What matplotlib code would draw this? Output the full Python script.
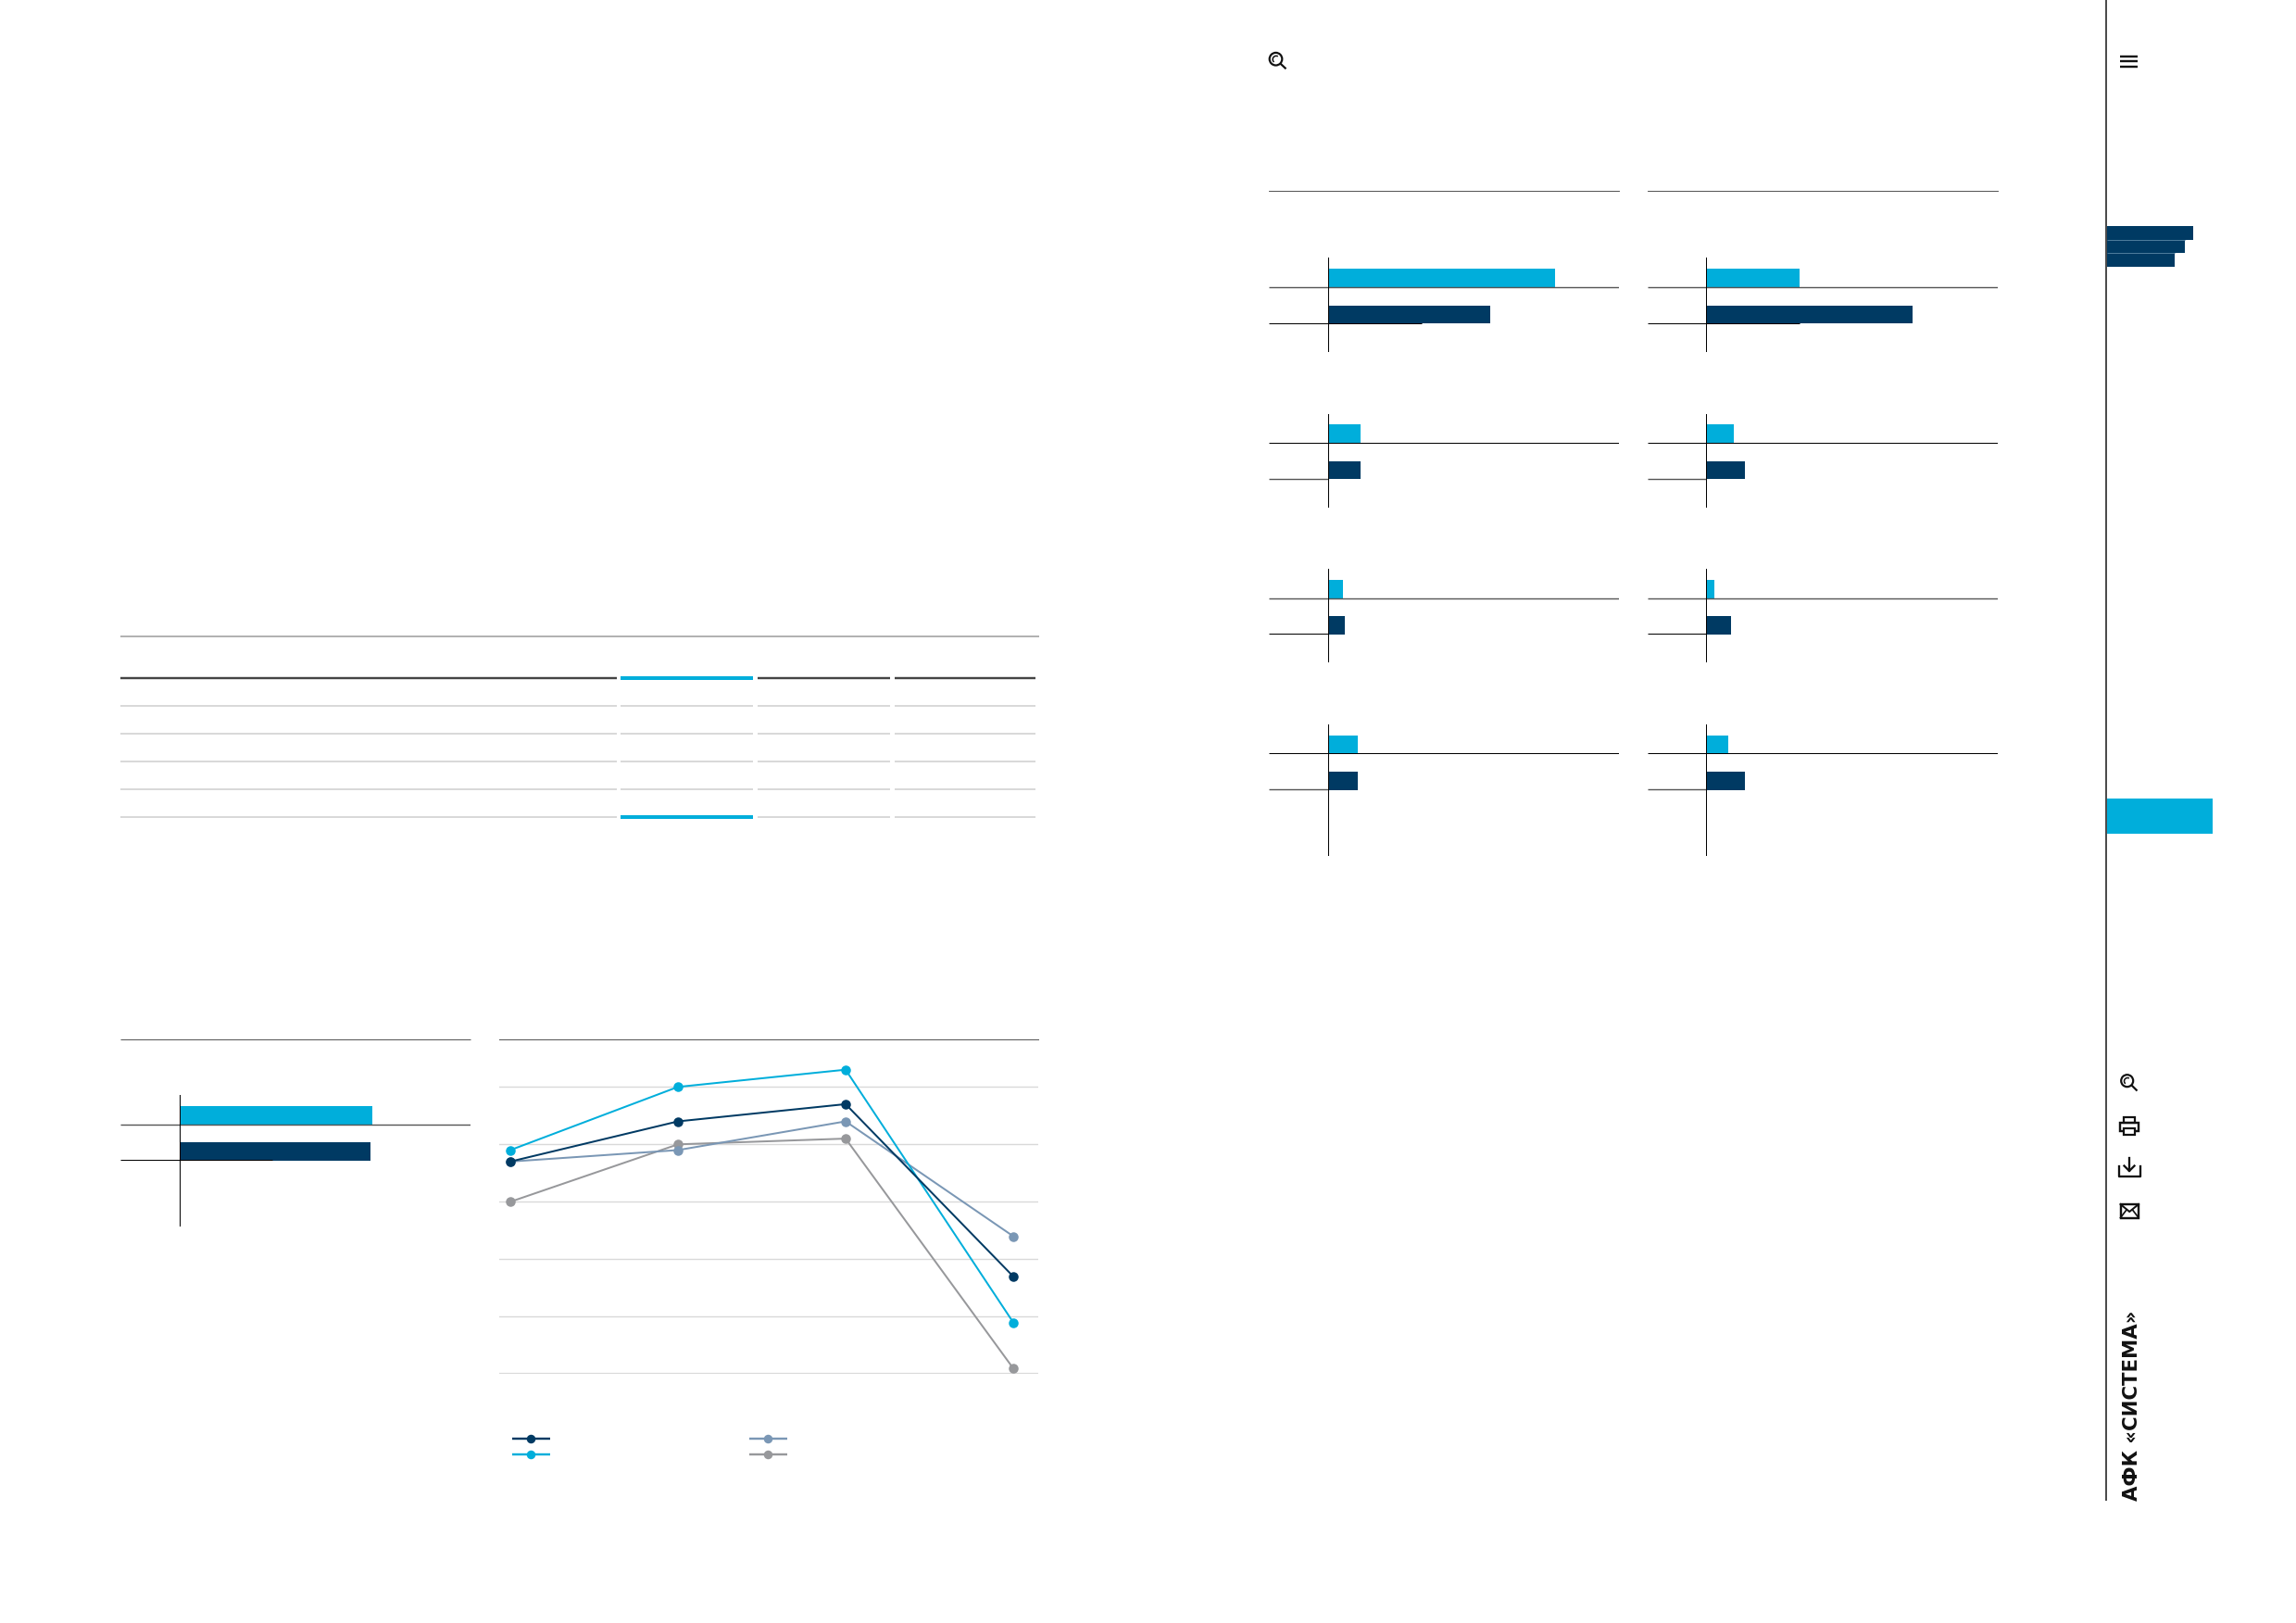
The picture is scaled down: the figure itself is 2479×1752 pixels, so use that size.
import matplotlib
matplotlib.use("Agg")
import matplotlib.pyplot as plt
from matplotlib.patches import Rectangle, Circle, Arc

W, H = 2479, 1752
DARK = "#003a63"; CYAN = "#00aedb"; SLATE = "#7a97b5"; GRAY = "#97989b"
PX = 0.72

# ---- data (no value text is legible in the reference; bar values in chart units) ----
line_categories = [0, 1, 2, 3]
series_dark  = [3.7, 4.4, 4.7, 1.7]
series_cyan  = [3.9, 5.0, 5.3, 0.9]
series_slate = [3.7, 3.9, 4.4, 2.4]
series_gray  = [3.0, 4.0, 4.1, 0.1]
line_grid = [0, 1, 2, 3, 4, 5]

left_bar_values = [207.5, 205.5]
panel_a1 = [244.5, 174.5]
panel_b1 = [100.8, 222.8]
panel_a2 = [34.2, 34.7]
panel_b2 = [29.9, 41.8]
panel_a3 = [15.2, 17.9]
panel_b3 = [8.6, 26.1]
panel_a4 = [32.0, 31.4]
panel_b4 = [23.3, 41.8]
nav_bars = [93.3, 84.6, 73.6]

fig = plt.figure(figsize=(W / 100, H / 100), dpi=100, facecolor="white")
ov = fig.add_axes([0, 0, 1, 1], zorder=5)
ov.set_xlim(0, W); ov.set_ylim(H, 0); ov.axis("off"); ov.patch.set_alpha(0)

def rule(x0, x1, y, c, px):
    ov.plot([x0, x1], [y, y], color=c, lw=px * PX, solid_capstyle="butt")

def axes_px(x0, x1, y0, y1):
    return fig.add_axes([x0 / W, 1 - y1 / H, (x1 - x0) / W, (y1 - y0) / H])

# ---- table rules ----
cols = [(130, 665.5), (670, 813), (818, 961), (965.5, 1117.5)]
rule(130, 1122, 687.3, "#a0a0a0", 1.6)
for i, (a, b) in enumerate(cols):
    rule(a, b, 731.7, CYAN if i == 1 else "#444444", 4 if i == 1 else 2.4)
    for y in (761.7, 791.7, 821.7, 851.7, 881.7):
        if i == 1 and y == 881.7:
            rule(a, b, y, CYAN, 4)
        else:
            rule(a, b, y, "#d9d9d9", 2)

# ---- bar panels ----
def bar_panel(x0, x1, zero, y_top, y_bottom, c_center, values, head_y, first, second, extent):
    ax = axes_px(x0, x1, y_top, y_bottom)
    ax.patch.set_alpha(0)
    unit = 39.35
    ax.set_xlim(x0 - zero, x1 - zero)
    ax.set_ylim((y_bottom - c_center) / unit, (y_top - c_center) / unit)
    ax.barh([0, 1], values, height=0.5, color=[CYAN, DARK], zorder=2)
    for s in ("top", "right", "bottom"):
        ax.spines[s].set_visible(False)
    ax.spines["left"].set_position(("data", 0))
    ax.spines["left"].set_color("#000000")
    ax.spines["left"].set_linewidth(1.0 * PX)
    ax.spines["left"].set_zorder(4)
    ax.set_xticks([]); ax.set_yticks([])
    ax.plot([x0 - zero, x1 - zero], [0.25, 0.25], color=first[0], lw=first[1] * PX, zorder=3, solid_capstyle="butt")
    ax.plot([x0 - zero, extent], [1.23, 1.23], color=second[0], lw=second[1] * PX, zorder=3, solid_capstyle="butt")
    rule(x0, x1, head_y, "#555555", 1.0)

thick = ("#555555", 1.4); thin = ("#000000", 1.0)
bar_panel(130, 508, 194, 1181.7, 1322.7, 1203.85, left_bar_values, 1122.3, thick, thin, 100)
XA, XB = (1370, 1748, 1434.3), (1778.5, 2157.4, 1842.4)
rows = [
    (278.3, 378.7, 300.15, panel_a1, panel_b1, thick, thin, 100.8),
    (446.7, 546.7, 468.15, panel_a2, panel_b2, thin, thick, 0),
    (614.0, 714.0, 635.85, panel_a3, panel_b3, thick, thin, 0),
    (782.0, 922.7, 803.5, panel_a4, panel_b4, thin, thick, 0),
]
for i, (t, b, c, va, vb, f, s, e) in enumerate(rows):
    bar_panel(XA[0], XA[1], XA[2], t, b, c, va, 206, f, s, e)
    bar_panel(XB[0], XB[1], XB[2], t, b, c, vb, 206, f, s, e)

# ---- line chart ----
ax = axes_px(538.5, 1121, 1122.3, 1483.3)
ax.patch.set_alpha(0)
ux = 181.0
ax.set_xlim((538.5 - 551) / ux, 3 + (1121 - 1094) / ux)
ax.set_ylim(0, (1483.3 - 1122.3) / 62.0)
for g in line_grid:
    ax.axhline(g, color="#d9d9d9", lw=(2.2 if g == 0 else 1.4) * PX, zorder=1)
for s in ("right", "left", "bottom"):
    ax.spines[s].set_visible(False)
ax.spines["top"].set_color("#555555"); ax.spines["top"].set_linewidth(1.0 * PX)
ax.set_xticks([]); ax.set_yticks([])
styles = [(series_gray, GRAY), (series_slate, SLATE), (series_cyan, CYAN), (series_dark, DARK)]
for vals, col in styles:
    ax.plot(line_categories, vals, color=col, lw=2.0 * PX, marker="o", ms=10.5 * PX,
            mec=col, mew=0, zorder=3, clip_on=False)

# legend keys (their labels are not legible in the reference)
for (x0, x1, xm, y, col) in [(553, 593.6, 572.6, 1552.7, DARK), (553, 593.6, 572.6, 1570.3, CYAN),
                             (808.6, 850, 829, 1552.7, SLATE), (808.6, 850, 829, 1570.3, GRAY)]:
    ov.plot([x0, x1], [y, y], color=col, lw=2.4 * PX, solid_capstyle="butt")
    ov.plot([xm], [y], "o", color=col, ms=9.5 * PX, mew=0)

# ---- side navigation ----
ov.plot([2274.4, 2274.4], [0, 1619.5], color="#111111", lw=1.5 * PX, solid_capstyle="butt")
for y in (61, 66.4, 71.8):
    rule(2289.3, 2308, y, "#111111", 2.4)
for y0, y1, v in zip((244.3, 258.7, 273.3), (258.7, 273.3, 288), nav_bars):
    ov.add_patch(Rectangle((2274.8, y0), v, y1 - y0, fc=DARK, ec="none"))
for y, v in zip((258.9, 273.4), nav_bars[1:]):
    rule(2274.8, 2274.8 + v, y, "#4d7b9c", 1)
ov.add_patch(Rectangle((2275, 862), 114, 38, fc=CYAN, ec="none"))

def search(cx, cy, r, x2, y2, lw):
    ov.add_patch(Circle((cx, cy), r, fc="none", ec="#111111", lw=lw * PX))
    ov.add_patch(Arc((cx + 0.4, cy + 0.4), r * 1.1, r * 1.1, theta1=130, theta2=300, ec="#111111", lw=lw * 0.7 * PX))
    ov.plot([cx + r * 0.7, x2], [cy + r * 0.7, y2], color="#111111", lw=lw * PX, solid_capstyle="butt")

search(1377.5, 63.7, 6.8, 1388.5, 74.3, 2.2)
search(2296.7, 1166.7, 6.5, 2307.5, 1177.5, 2.2)
# printer
ov.add_patch(Rectangle((2289, 1211.5), 19.5, 9.5, fc="none", ec="#111111", lw=2.4 * PX))
ov.add_patch(Rectangle((2292.5, 1205.5), 12.5, 6, fc="none", ec="#111111", lw=2.2 * PX))
ov.add_patch(Rectangle((2292.5, 1217.5), 12.5, 7.5, fc="white", ec="#111111", lw=2.2 * PX))
# download
ov.plot([2288, 2288, 2310.5, 2310.5], [1259, 1269.5, 1269.5, 1259], color="#111111", lw=2.3 * PX)
ov.plot([2299, 2299], [1249.5, 1264], color="#111111", lw=2.3 * PX)
ov.plot([2293.5, 2299, 2304.5], [1258.5, 1264, 1258.5], color="#111111", lw=2.3 * PX)
# mail
ov.add_patch(Rectangle((2289.5, 1300), 19.5, 14.5, fc="none", ec="#111111", lw=2.4 * PX))
ov.plot([2289.5, 2299.2, 2309], [1300, 1308, 1300], color="#111111", lw=2 * PX)
ov.plot([2289.5, 2296], [1314.5, 1306], color="#111111", lw=1.7 * PX)
ov.plot([2309, 2302.5], [1314.5, 1306], color="#111111", lw=1.7 * PX)

ov.text(2301.5, 1620.5, "АФК «СИСТЕМА»", rotation=90, ha="center", va="bottom",
        fontsize=15.3, fontweight="bold", family=["DejaVu Sans"], color="#111111")

fig.savefig("out.png", dpi=100, facecolor="white")
